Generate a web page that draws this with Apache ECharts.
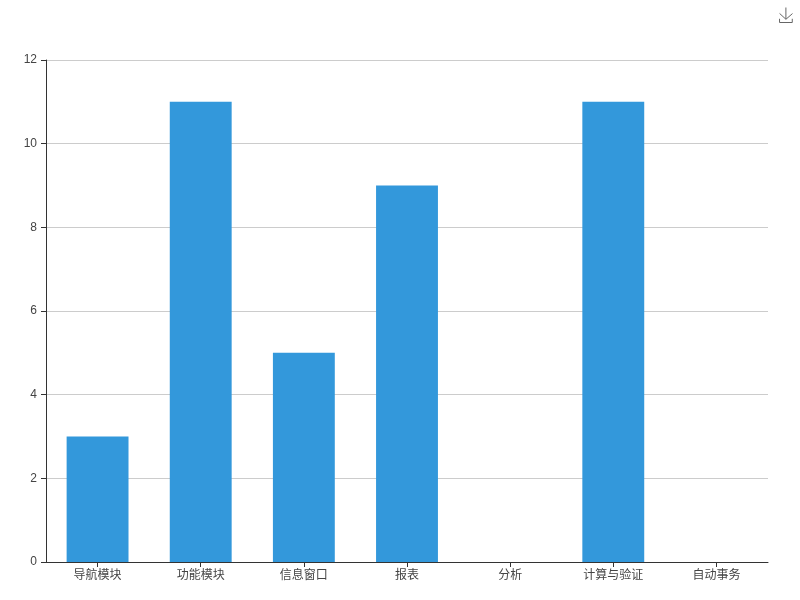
<!DOCTYPE html>
<html><head><meta charset="utf-8">
<style>html,body{margin:0;padding:0;background:#fff}#c{width:800px;height:600px}</style>
<script src="https://cdn.jsdelivr.net/npm/echarts@6/dist/echarts.min.js"></script>
</head><body><div id="c"></div>
<script>
const categories = ['导航模块','功能模块','信息窗口','报表','分析','计算与验证','自动事务'];
const values = [3,11,5,9,0,11,0];
const chart = echarts.init(document.getElementById('c'), null, {renderer:'canvas'});
const font = '"Liberation Sans", "Noto Sans CJK SC", sans-serif';
chart.setOption({
  animation:false,
  textStyle:{fontFamily:font},
  color:['#3398DB'],
  toolbox:{show:true,right:-10,top:-10,itemSize:15,feature:{saveAsImage:{show:true,title:''}},iconStyle:{borderColor:'#666'}},
  grid:{left:46,right:32,top:60,bottom:38,containLabel:false},
  xAxis:{type:'category',data:categories,
    axisTick:{show:true,alignWithLabel:true,length:5,lineStyle:{color:'#333'}},
    axisLine:{lineStyle:{color:'#333',width:1}},
    axisLabel:{color:'#444',fontSize:12,margin:8,interval:0,fontFamily:font},
    splitLine:{show:false}},
  yAxis:{type:'value',min:0,max:12,interval:2,
    axisTick:{show:true,length:5,lineStyle:{color:'#333'}},
    axisLine:{show:true,lineStyle:{color:'#333',width:1}},
    axisLabel:{color:'#444',fontSize:12,margin:9,padding:[0,0,2,0],fontFamily:font},
    splitLine:{show:true,lineStyle:{color:'#ccc',width:1}}},
  series:[{type:'bar',data:values,barWidth:'60%',itemStyle:{color:'#3398DB'}}]
});
</script></body></html>
